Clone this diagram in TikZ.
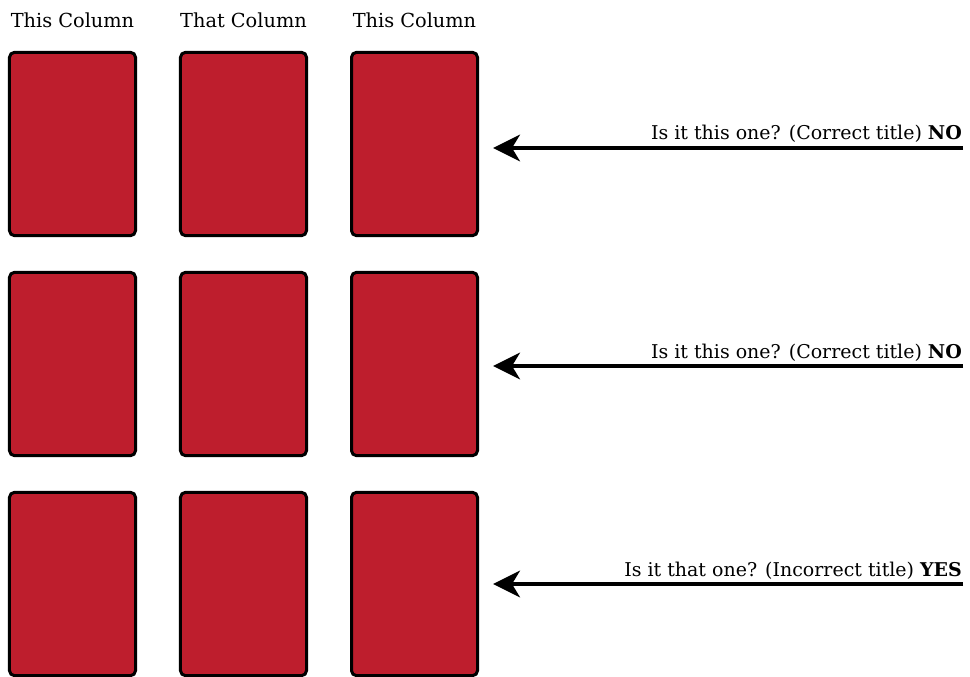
\documentclass[tikz,border=0pt]{standalone}
\usepackage{fontspec}
\setmainfont{DejaVu Serif}
\usetikzlibrary{arrows.meta}
\definecolor{cardred}{HTML}{BE1E2D}

\begin{document}
\begin{tikzpicture}[
    x=0.03cm, y=-0.03cm,
    card/.style={draw, line width=0.09cm, fill=cardred, rounded corners=0.15cm,
        minimum width=3.78cm, minimum height=5.5cm, inner sep=0pt},
    head/.style={font=\fontsize{16.5}{18}\selectfont, anchor=base},
    question/.style={font=\fontsize{16.2}{18}\selectfont, anchor=base east},
    pointer/.style={line width=0.095cm,
        -{Stealth[length=0.81cm, width=0.8cm, inset=0.24cm]}, shorten >=0.42cm}
]
\useasboundingbox (0,0) rectangle (970,677);

% Columns
\node[head] (h1) at (72.5, 28) {This Column};
\node[head] (h2) at (243.5, 28) {That Column};
\node[head] (h3) at (414.5, 28) {This Column};

% Cards
\node[card] (c11) at (72.5, 144) {};
\node[card] (c12) at (243.5, 144) {};
\node[card] (c13) at (414.5, 144) {};
\node[card] (c21) at (72.5, 364) {};
\node[card] (c22) at (243.5, 364) {};
\node[card] (c23) at (414.5, 364) {};
\node[card] (c31) at (72.5, 584) {};
\node[card] (c32) at (243.5, 584) {};
\node[card] (c33) at (414.5, 584) {};

% Questions
\coordinate (q1) at (963, 148);
\coordinate (q2) at (963, 366);
\coordinate (q3) at (963, 584);
\draw[pointer] (q1) -- (q1 -| c13.east);
\draw[pointer] (q2) -- (q2 -| c23.east);
\draw[pointer] (q3) -- (q3 -| c33.east);
\node[question] (t1) at (966, 140) {Is it this one? (Correct title) \textbf{NO}};
\node[question] (t2) at (966, 358) {Is it this one? (Correct title) \textbf{NO}};
\node[question] (t3) at (966, 576) {Is it that one? (Incorrect title) \textbf{YES}};
\end{tikzpicture}
\end{document}
